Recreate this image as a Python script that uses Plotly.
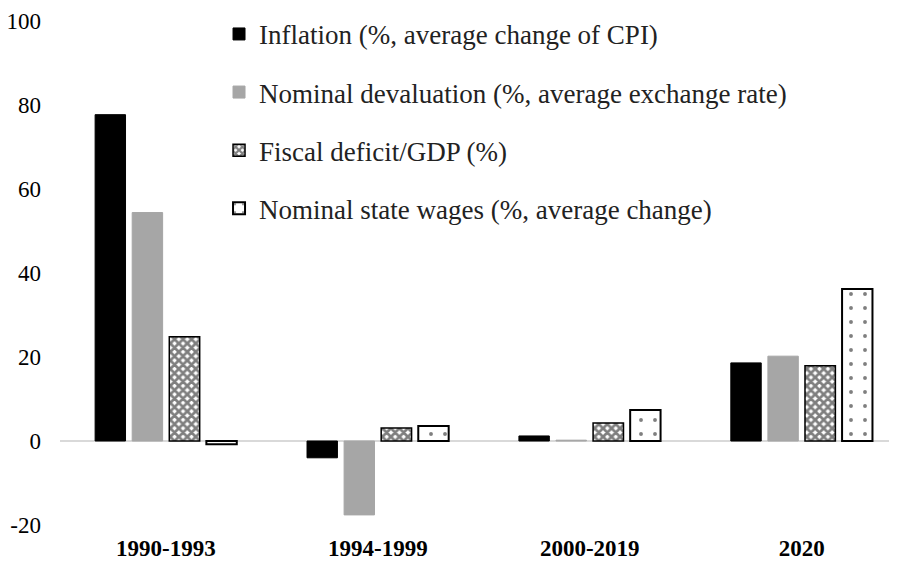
import plotly.graph_objects as go

periods = ['1990-1993', '1994-1999', '2000-2019', '2020']
inflation = [77.7, -4.0, 1.2, 18.6]
devaluation = [54.4, -17.6, 0.2, 20.2]
fiscal = [24.8, 3.1, 4.3, 17.9]
wages = [-0.8, 3.6, 7.4, 36.2]

y_ticks = [-20, 0, 20, 40, 60, 80, 100]
y_labels = ['-20', '0', '20', '40', '60', '80', '100']

names = ['Inflation (%, average change of CPI)',
         'Nominal devaluation (%, average exchange rate)',
         'Fiscal deficit/GDP (%)',
         'Nominal state wages (%, average change)']

font_family = "Liberation Serif, Times New Roman, serif"

fig = go.Figure()
fig.add_trace(go.Bar(x=periods, y=inflation, name=names[0], legendgroup='a',
                     marker=dict(color='#000000', line=dict(color='#000000', width=1))))
fig.add_trace(go.Bar(x=periods, y=devaluation, name=names[1], legendgroup='b',
                     marker=dict(color='#a6a6a6', line=dict(color='#a6a6a6', width=1))))
fig.add_trace(go.Bar(x=periods, y=fiscal, name=names[2], legendgroup='c',
                     marker=dict(color='#ffffff', line=dict(color='#000000', width=1.5),
                                 pattern=dict(shape='x', fgcolor='#000000', bgcolor='#ffffff',
                                              size=6, solidity=0.7, fillmode='overlay'))))
fig.add_trace(go.Bar(x=periods, y=wages, name=names[3], legendgroup='d',
                     marker=dict(color='#ffffff', line=dict(color='#000000', width=2),
                                 pattern=dict(shape='.', fgcolor='#000000', bgcolor='#ffffff',
                                              size=14, solidity=0.06, fillmode='overlay'))))

# page body has an 8px margin, so the figure is shrunk by 8px and margins shifted
fig.update_layout(
    width=889, height=558,
    margin=dict(l=52, r=0, t=13, b=41),
    plot_bgcolor='white', paper_bgcolor='white',
    barmode='group', bargap=0.3, bargroupgap=0.18,
    font=dict(family=font_family, size=23, color='#000000'),
    showlegend=True,
    legend=dict(x=0.19, y=1.022, xanchor='left', yanchor='top',
                bgcolor='rgba(0,0,0,0)', tracegroupgap=20,
                font=dict(size=27, color='#222222'), itemwidth=30),
    xaxis=dict(range=[-0.5, 3.45], showline=False, ticks='', automargin=False,
               ticklabelstandoff=7,
               tickfont=dict(size=23, family=font_family, weight='bold'),
               showgrid=False),
    yaxis=dict(range=[-20, 100], tickvals=y_ticks, ticktext=y_labels,
               showgrid=False, showline=False, automargin=False,
               zeroline=True, zerolinecolor='#d9d9d9', zerolinewidth=1.5,
               ticks='', ticklabelstandoff=18, tickfont=dict(size=23)),
)

fig.write_html("out.html")
